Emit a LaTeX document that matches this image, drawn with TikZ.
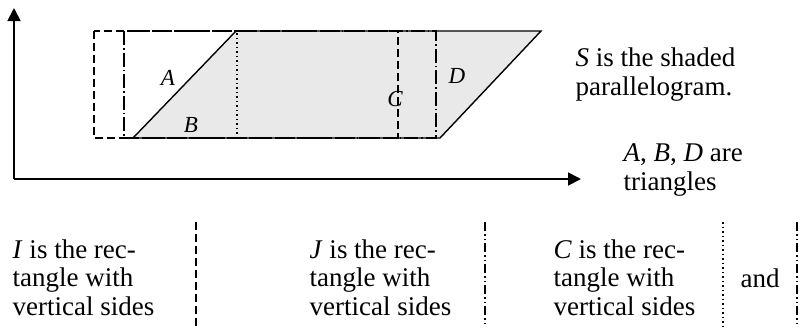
\documentclass[tikz,border=0pt]{standalone}
\usepackage{fontspec}
\setmainfont{Liberation Serif}
\usetikzlibrary{arrows.meta}

\tikzset{
	lnI/.style={dash pattern=on 8pt off 4pt},
	lnJ/.style={dash pattern=on 14pt off 3pt on 1.5pt off 3pt},
	lnJb/.style={dash pattern=on 9pt off 3pt on 1.5pt off 3pt on 1.5pt off 3pt},
	lnC/.style={dash pattern=on 1.5pt off 3pt},
	txt/.style={anchor=base west, inner sep=0pt, align=left, font=\fontsize{27}{28.5}\selectfont},
	lbl/.style={inner sep=0pt, font=\fontsize{23}{26}\selectfont\itshape},
}

\begin{document}
\begin{tikzpicture}[x=1pt,y=-1pt,line width=1.4pt]
	\useasboundingbox (0,0) rectangle (799,327);

	% axes
	\coordinate (o) at (14,179);
	\coordinate (ytip) at (14,8);
	\coordinate (xtip) at (581,179);
	\draw [line width=1.8pt,-{Triangle[length=13pt,width=13pt]}] (o) -- (ytip);
	\draw [line width=1.8pt,-{Triangle[length=13pt,width=13pt]}] (o) -- (xtip);

	% parallelogram S
	\coordinate (p-bl) at (133,138);
	\coordinate (p-tl) at (236,31);
	\coordinate (p-tr) at (541,31);
	\coordinate (p-br) at (440,138);
	\fill [gray!17] (p-bl) -- (p-tl) -- (p-tr) -- (p-br) -- cycle;

	% rectangles I, J and side of C
	\draw [lnI] (94,31) rectangle (398,138);
	\draw [lnJ] (124,31) rectangle (436,138);
	\draw [lnC] (237,33) -- (237,136);

	\draw (p-bl) -- (p-tl) -- (p-tr) -- (p-br) -- cycle;

	% labels in the figure
	\node [lbl] (la) at (168,78) {A};
	\node [lbl] (lb) at (191,125) {B};
	\node [lbl] (lc) at (395,99) {C};
	\node [lbl] (ld) at (457,76) {D};

	% texts on the right
	\node [txt] (ts) at (575,95) {\textit{S} is the shaded\\parallelogram.};
	\node [txt] (tt) at (623,190) {\textit{A}, \textit{B}, \textit{D} are\\triangles};

	% legend row
	\node [txt] (ti) at (12,315) {\textit{I} is the rec-\\tangle with\\vertical sides};
	\node [txt] (tj) at (309,315) {\textit{J} is the rec-\\tangle with\\vertical sides};
	\node [txt] (tc) at (553,315) {\textit{C} is the rec-\\tangle with\\vertical sides};
	\node [txt] (tand) at (740,287) {and};

	\foreach \x/\s [count=\k] in {196/lnI,485/lnJb,723/lnC,797/lnJb}{
			\coordinate (s-\k-a) at (\x,222);
			\coordinate (s-\k-b) at (\x,327);
			\draw [\s] (s-\k-a) -- (s-\k-b);
		}
\end{tikzpicture}
\end{document}
